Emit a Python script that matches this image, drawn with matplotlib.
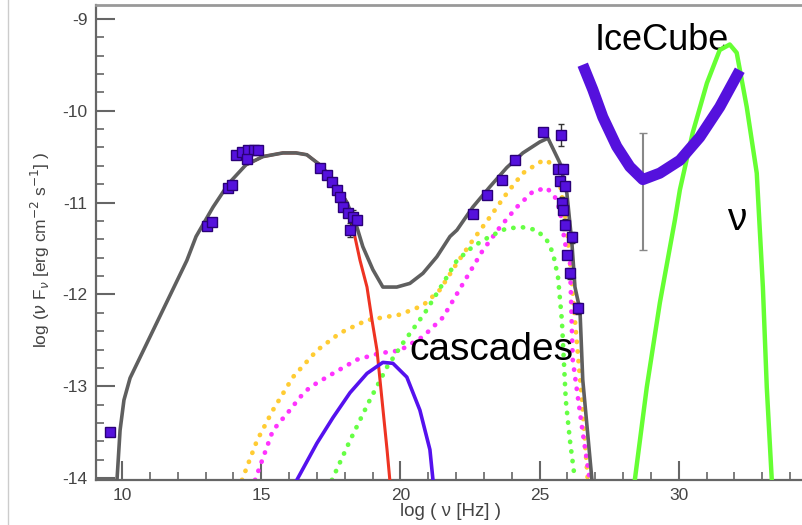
import matplotlib
matplotlib.use('Agg')
import matplotlib.pyplot as plt
import numpy as np

plt.rcParams['font.family'] = ['Liberation Sans', 'DejaVu Sans']
plt.rcParams['axes.unicode_minus'] = False

# total SED model (grey)
total_x = [9.82, 9.93, 10.07, 10.29, 12.33, 12.66, 13.27, 13.84, 14.45, 15.06, 15.78,
           16.25, 16.64, 17.11, 17.58, 18.08, 18.44, 18.65, 19.01, 19.37, 19.87, 20.34,
           20.81, 21.31, 21.78, 22.03, 22.60, 23.21, 23.82, 24.40, 25.01, 25.30, 25.73,
           25.98, 26.16, 26.27, 26.45, 26.55, 26.88]
total_y = [-14.02, -13.48, -13.15, -12.91, -11.63, -11.37, -11.05, -10.79, -10.59, -10.50,
           -10.46, -10.46, -10.48, -10.59, -10.75, -11.00, -11.27, -11.48, -11.73, -11.92,
           -11.92, -11.88, -11.77, -11.59, -11.37, -11.30, -11.05, -10.83, -10.62, -10.46,
           -10.34, -10.30, -10.57, -10.90, -11.44, -11.92, -12.17, -12.93, -14.02]

# synchrotron (red)
sync_x = [14.45, 15.06, 15.78, 16.25, 16.64, 17.11, 17.58, 18.08, 18.35, 18.55, 18.80,
          18.98, 19.16, 19.34, 19.52, 19.62]
sync_y = [-10.59, -10.50, -10.46, -10.46, -10.48, -10.59, -10.75, -11.00, -11.35, -11.63,
          -11.92, -12.28, -12.61, -13.15, -13.69, -14.02]

# cascade components (dotted)
yellow_x = [14.31, 14.85, 15.42, 16.14, 17.00, 17.83, 18.80, 19.98, 20.81, 21.42, 22.03,
            22.60, 23.21, 23.82, 24.40, 25.01, 25.26, 25.55, 25.73, 25.94, 26.12, 26.30,
            26.52, 26.73]
yellow_y = [-14.02, -13.59, -13.26, -12.90, -12.61, -12.42, -12.28, -12.22, -12.12, -11.95,
            -11.66, -11.41, -11.16, -10.90, -10.68, -10.56, -10.54, -10.62, -10.79, -11.19,
            -11.73, -12.39, -13.15, -14.02]
magenta_x = [14.78, 15.42, 16.03, 16.39, 16.75, 17.58, 18.44, 19.26, 19.98, 20.81, 21.53,
             22.39, 22.96, 23.57, 24.18, 24.76, 25.26, 25.55, 25.73, 25.91, 26.09, 26.19,
             26.52, 26.80]
magenta_y = [-14.02, -13.48, -13.26, -13.12, -13.01, -12.86, -12.71, -12.64, -12.61, -12.46,
             -12.25, -11.81, -11.52, -11.27, -11.05, -10.88, -10.84, -10.94, -11.08, -11.44,
             -11.63, -12.71, -13.44, -14.02]
green_x = [17.54, 18.19, 18.90, 19.52, 20.09, 20.88, 21.53, 22.03, 22.60, 23.21, 23.82,
           24.40, 24.90, 25.26, 25.48, 25.66, 25.80, 25.94, 26.09, 26.27]
green_y = [-14.02, -13.59, -13.15, -12.79, -12.53, -12.20, -11.88, -11.63, -11.48, -11.37,
           -11.28, -11.27, -11.30, -11.41, -11.55, -11.81, -12.28, -13.15, -13.59, -14.02]

# purple solid component
purple_x = [16.28, 17.00, 17.58, 18.19, 18.80, 19.37, 19.73, 20.23, 20.70, 21.06, 21.17]
purple_y = [-14.02, -13.62, -13.34, -13.07, -12.86, -12.74, -12.75, -12.90, -13.26, -13.69,
            -14.02]

# neutrino spectrum
nu_x = [28.42, 28.85, 29.32, 29.86, 30.04, 30.50, 31.01, 31.47, 31.83, 32.08, 32.44, 32.80,
        33.02, 33.16, 33.34]
nu_y = [-14.02, -13.01, -12.09, -11.19, -10.86, -10.24, -9.70, -9.34, -9.28, -9.37, -9.96,
        -10.68, -11.92, -13.01, -14.02]

# IceCube sensitivity
ic_x = [26.55, 26.91, 27.27, 27.77, 28.24, 28.71, 29.32, 30.04, 30.75, 31.47, 32.19]
ic_y = [-9.50, -9.77, -10.07, -10.39, -10.61, -10.75, -10.68, -10.54, -10.29, -9.96, -9.56]
ic_err_x = 28.71
ic_err_y = -10.75
ic_err_lo = 0.77
ic_err_hi = 0.51

# observed data
obs_x = [9.57, 13.05, 13.23, 13.81, 13.95, 14.09, 14.31, 14.52, 14.74, 14.88, 14.49,
         17.11, 17.36, 17.54, 17.72, 17.83, 17.94, 18.12, 18.29, 18.44, 18.19,
         22.60, 23.10, 23.64, 24.11, 25.12, 25.76,
         25.66, 25.83, 25.73, 25.91, 25.80, 25.83, 25.91, 26.16, 25.98, 26.09, 26.37]
obs_y = [-13.50, -11.25, -11.21, -10.84, -10.81, -10.48, -10.45, -10.43, -10.43, -10.43, -10.53,
         -10.62, -10.70, -10.78, -10.86, -10.94, -11.05, -11.11, -11.16, -11.19, -11.30,
         -11.13, -10.92, -10.75, -10.54, -10.23, -10.26,
         -10.64, -10.64, -10.77, -10.82, -11.00, -11.08, -11.24, -11.38, -11.57, -11.77, -12.15]
obs_err = [0, 0, 0, 0, 0, 0, 0, 0, 0, 0, 0,
           0, 0, 0, 0, 0, 0, 0, 0.08, 0, 0.08,
           0, 0, 0, 0, 0, 0.12,
           0, 0, 0, 0, 0.06, 0, 0.06, 0.06, 0, 0.06, 0.06]

fig = plt.figure(figsize=(8.02, 5.25), dpi=100)
# frame continues past the right edge of the canvas
ax = fig.add_axes([96 / 802, 45 / 525, 722 / 802, 475 / 525])

ax.plot(total_x, total_y, color='#5f5f5f', lw=2.6, zorder=4)
ax.plot(sync_x, sync_y, color='#ee3322', lw=2.2, zorder=3)

dot = dict(lw=3.4, linestyle=(0, (0.05, 2.0)), dash_capstyle='round', zorder=2)
ax.plot(yellow_x, yellow_y, color='#ffcc33', **dot)
ax.plot(magenta_x, magenta_y, color='#ff33ff', **dot)
ax.plot(green_x, green_y, color='#66ff44', **dot)

ax.plot(purple_x, purple_y, color='#5511ee', lw=2.6, zorder=3)
ax.plot(nu_x, nu_y, color='#66ff33', lw=3.2, zorder=3)

ax.errorbar(ic_err_x, ic_err_y, yerr=[[ic_err_lo], [ic_err_hi]], fmt='none',
            ecolor='#888888', elinewidth=1.5, capsize=3, zorder=2)
ax.plot(ic_x, ic_y, color='#5511dd', lw=8, solid_capstyle='butt', zorder=5)

ax.errorbar(obs_x, obs_y, yerr=obs_err, fmt='s', ms=6.5, mfc='#5511dd', mec='#2a0077',
            mew=1.0, ecolor='#333333', elinewidth=1.0, capsize=2, zorder=6)

ax.text(26.98, -9.34, 'IceCube', fontsize=26, color='black', zorder=1)
ax.text(20.34, -12.71, 'cascades', fontsize=28, color='black', zorder=7)
ax.text(31.72, -11.30, 'ν', fontsize=28, color='black', zorder=7)

ax.set_xlim(9.066, 35.0)
ax.set_ylim(-14.02, -8.85)
ax.set_xticks([10, 15, 20, 25, 30])
ax.set_xticks(np.arange(10, 36, 1), minor=True)
ax.set_yticks([-14, -13, -12, -11, -10, -9])
ax.set_yticks(np.arange(-14, -8.8, 0.2), minor=True)
ax.tick_params(which='both', direction='in', top=False, right=False,
               color='#666666', labelcolor='#444444', labelsize=12.5)
ax.tick_params(which='major', length=14, width=1.5, pad=6)
ax.tick_params(which='minor', length=6, width=1.2)

for side in ['left', 'bottom']:
    ax.spines[side].set_color('#666666')
    ax.spines[side].set_linewidth(1.6)
ax.spines['top'].set_color('#999999')
ax.spines['top'].set_linewidth(2.0)
ax.spines['right'].set_visible(False)

fig.text(40 / 802, 1 - 250 / 525, r'log ($\nu$ F$_\nu$ [erg cm$^{-2}$ s$^{-1}$] )',
         rotation=90, ha='center', va='center', fontsize=12.5, color='#444444')
fig.text(450 / 802, 1 - 512 / 525, 'log ( ν [Hz] )', ha='center', va='center',
         fontsize=13.5, color='#444444')

# thin border line at the far left
fig.add_artist(plt.Line2D([8 / 802, 8 / 802], [0, 1], color='#cccccc', lw=1.0))

fig.savefig('out.png', dpi=100)
